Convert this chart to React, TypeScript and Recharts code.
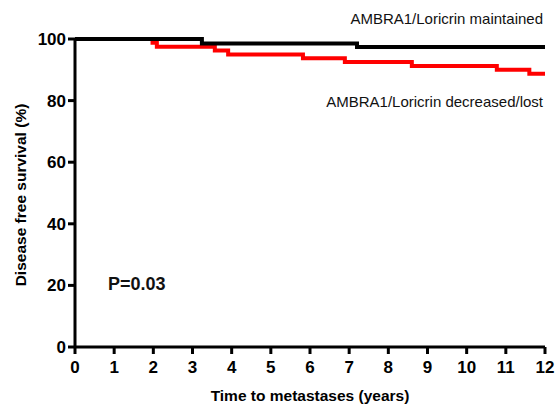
import React from 'react';
import { LineChart, Line, XAxis, YAxis, Label } from 'recharts';

// Kaplan-Meier steps (years, % disease free)
const maintainedTime = [0, 3.24, 7.2, 12];
const maintainedSurvival = [100, 98.5, 97.4, 97.4];
const lostTime = [0, 1.98, 2.09, 3.57, 3.91, 5.82, 6.89, 8.6, 10.77, 11.6, 12];
const lostSurvival = [100, 98.75, 97.5, 96.25, 95, 93.75, 92.5, 91.25, 90, 88.75, 88.75];
const xTicks = [0, 1, 2, 3, 4, 5, 6, 7, 8, 9, 10, 11, 12];
const yTicks = [0, 20, 40, 60, 80, 100];

const maintained = maintainedTime.map((t, i) => ({ t, s: maintainedSurvival[i] }));
const lost = lostTime.map((t, i) => ({ t, s: lostSurvival[i] }));

const font = 'Liberation Sans, Arial, sans-serif';
const tickStyle = { fill: '#000', fontSize: 17, fontWeight: 700, fontFamily: font };
const axisStroke = { stroke: '#000', strokeWidth: 3 };
const titleStyle = { fill: '#000', fontSize: 15.5, fontWeight: 700, fontFamily: font };
const noteStyle: React.CSSProperties = {
    position: 'absolute',
    fontFamily: font,
    color: '#111',
    whiteSpace: 'nowrap',
    lineHeight: 1,
};

// y title drawn by hand so it sits where the original does
const YTitle = () => (
    <text
        x={20}
        y={195}
        transform="rotate(-90 20 195)"
        textAnchor="middle"
        dominantBaseline="central"
        style={titleStyle}
    >
        Disease free survival (%)
    </text>
);

export default function App() {
    return (
        <div style={{ position: 'absolute', left: 0, top: 0, width: 555, height: 405, background: '#fff' }}>
            <LineChart width={555} height={405} margin={{ top: 39, right: 10, left: 25, bottom: 28 }}>
                <XAxis
                    type="number"
                    dataKey="t"
                    domain={[0, 12]}
                    ticks={xTicks}
                    interval={0}
                    height={30}
                    tick={tickStyle}
                    tickSize={7}
                    tickMargin={7}
                    axisLine={axisStroke}
                    tickLine={axisStroke}
                >
                    <Label
                        value="Time to metastases (years)"
                        position="insideBottom"
                        offset={-24}
                        style={titleStyle}
                    />
                </XAxis>
                <YAxis
                    type="number"
                    domain={[0, 100]}
                    ticks={yTicks}
                    interval={0}
                    width={50}
                    tick={tickStyle}
                    tickSize={7}
                    axisLine={axisStroke}
                    tickLine={axisStroke}
                >
                    <Label content={<YTitle />} />
                </YAxis>
                <Line
                    data={lost}
                    dataKey="s"
                    type="stepAfter"
                    stroke="#ff0000"
                    strokeWidth={4}
                    dot={false}
                    isAnimationActive={false}
                />
                <Line
                    data={maintained}
                    dataKey="s"
                    type="stepAfter"
                    stroke="#000"
                    strokeWidth={4}
                    dot={false}
                    isAnimationActive={false}
                />
            </LineChart>
            <div style={{ ...noteStyle, right: 12, top: 11, fontSize: 15 }}>AMBRA1/Loricrin maintained</div>
            <div style={{ ...noteStyle, right: 12, top: 94, fontSize: 15 }}>AMBRA1/Loricrin decreased/lost</div>
            <div style={{ ...noteStyle, left: 108, top: 275, fontSize: 18, fontWeight: 700 }}>P=0.03</div>
        </div>
    );
}
